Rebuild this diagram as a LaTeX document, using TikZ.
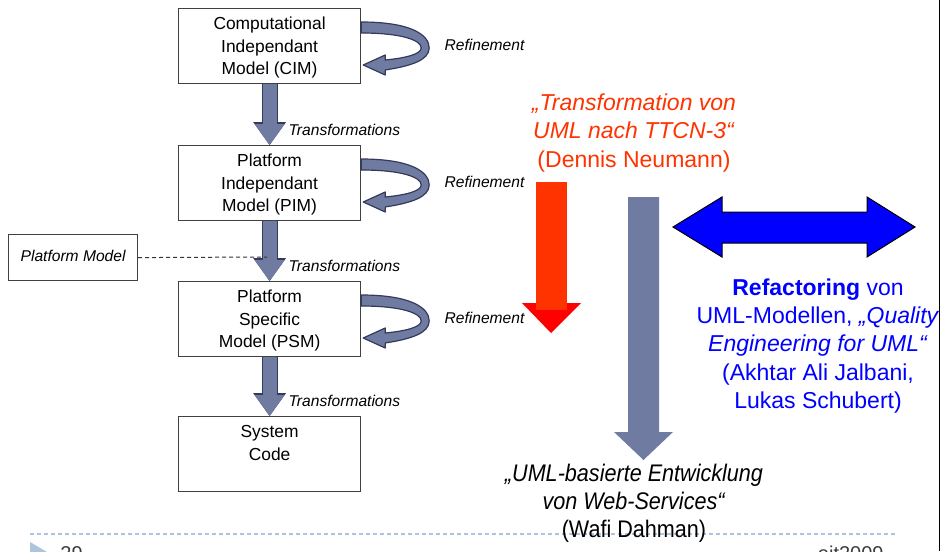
\documentclass[tikz,border=0pt]{standalone}
\usepackage{fontspec}
\setmainfont{Liberation Sans}
\usetikzlibrary{arrows.meta}
\usetikzlibrary{calc}
\definecolor{slate}{RGB}{112,123,162}
\definecolor{slateline}{RGB}{52,58,92}
\definecolor{refred}{RGB}{255,51,0}
\definecolor{footblue}{RGB}{172,196,222}
\definecolor{footgrey}{RGB}{60,60,60}

\begin{document}
\begin{tikzpicture}[x=0.5pt,y=-0.5pt,
  box/.style={draw=black!75,line width=0.6pt,fill=white,minimum width=91pt,minimum height=37.5pt,
    align=center,inner sep=2pt,text depth=-0.6pt,font=\fontsize{8.7}{11.25}\selectfont},
  lbl/.style={text=black,inner sep=0pt,font=\fontsize{7.8}{9}\selectfont\itshape},
  transarrow/.style={draw=slate,line width=7pt,-{Triangle[width=15pt,length=10.5pt,line width=0pt]},
    preaction={draw=slateline,line width=8pt,-{Triangle[width=16.5pt,length=11.5pt,line width=0pt]}}},
  refloop/.style={fill=slate,draw=slateline,line width=0.6pt,line join=round},
  pmline/.style={draw=black!80,line width=0.5pt,dash pattern=on 2pt off 1.5pt}]
\useasboundingbox (0,0) rectangle (941,551);
\clip (0,0) rectangle (941,551);
\coordinate (cimpos) at (178,8);
\coordinate (pimpos) at (178,145);
\coordinate (psmpos) at (178,281);
\coordinate (codepos) at (178,416);
\coordinate (pmpos) at (8,234);
\coordinate (pmend) at (267,257);
% footer
\draw[footblue,line width=0.8pt,dash pattern=on 2pt off 1.5pt] (30,534) -- (895,534);
\fill[footblue] (30,542) -- (47,552) -- (30,562) -- cycle;
\node[text=footgrey,anchor=north west,inner sep=0pt,font=\fontsize{10}{12}\selectfont] (pageno) at (60,546) {29};
\node[text=footgrey,anchor=north east,inner sep=0pt,font=\fontsize{10}{12}\selectfont] (event) at (884,546) {eit2009};
% draws boxes
\node[box,anchor=north west] (cim) at (cimpos) {Computational\\Independant\\Model (CIM)};
\node[box,anchor=north west] (pim) at (pimpos) {Platform\\Independant\\Model (PIM)};
\node[box,anchor=north west] (psm) at (psmpos) {Platform\\Specific\\Model (PSM)};
\node[box,anchor=north west] (code) at (codepos) {System\\Code\\\mbox{}};
\node[box,anchor=north west,minimum width=64.5pt,minimum height=23pt,text depth=2pt,font=\fontsize{7.8}{9}\selectfont\itshape] (pm) at (pmpos) {Platform Model};
% refinement loops
\foreach \b in {cim,pim,psm} {
  \begin{scope}[shift={(\b.north east)}]
    \filldraw[refloop] (0,14) .. controls (50,14) and (68,27) .. (68,40)
      .. controls (68,52) and (50,58) .. (24,62) -- (24,67) -- (2,57) -- (24,47) -- (24,52)
      .. controls (45,50) and (60,46) .. (60,40) .. controls (60,32) and (40,25) .. (0,25) -- cycle;
  \end{scope}
  \node[lbl,anchor=west] (\b ref) at ($(\b.north east)+(83,37)$) {Refinement};
}
% draws transformations
\draw[transarrow] (cim) -- (pim) node[lbl,pos=0.76,right=6pt] (t1) {Transformations};
\draw[transarrow] (pim) -- (psm) node[lbl,pos=0.75,right=6pt] (t2) {Transformations};
\draw[transarrow] (psm) -- (code) node[lbl,pos=0.75,right=6pt] (t3) {Transformations};
\draw[pmline] (pm.east) -- (pmend);
% big arrows
\fill[red] (522,303) -- (581,303) -- (551,333) -- cycle;
\fill[refred] (536,182) rectangle (567,310);
\fill[slate] (628,197) -- (659,197) -- (659,432) -- (673,432) -- (643.5,460) -- (614,432) -- (628,432) -- cycle;
\filldraw[fill=blue,draw=black,line width=0.5pt] (673,227) -- (722,197) -- (722,212) -- (867,212) -- (867,197)
  -- (915,227) -- (867,257) -- (867,243) -- (722,243) -- (722,257) -- cycle;
% texts
\node[text=refred,align=center,font=\fontsize{11.5}{14.25}\selectfont] (ttcn) at (634,133)
  {\textit{„Transformation von}\\\textit{UML nach TTCN-3“}\\(Dennis Neumann)};
\node[text=blue,align=center,font=\fontsize{11.5}{14.1}\selectfont] (refac) at (818,346)
  {\textbf{Refactoring} von\\UML-Modellen, \textit{„Quality}\\\textit{Engineering for UML“}\\(Akhtar Ali Jalbani,\\Lukas Schubert)};
\node[align=center,xscale=0.9,transform shape,font=\fontsize{12}{13.9}\selectfont] (websvc) at (634,503)
  {\textit{„UML-basierte Entwicklung}\\\textit{von Web-Services“}\\(Wafi Dahman)};
\draw[black,line width=1pt] (939.5,0) -- (939.5,551);
\fill[white] (940,0) rectangle (941,551);
\end{tikzpicture}
\end{document}
